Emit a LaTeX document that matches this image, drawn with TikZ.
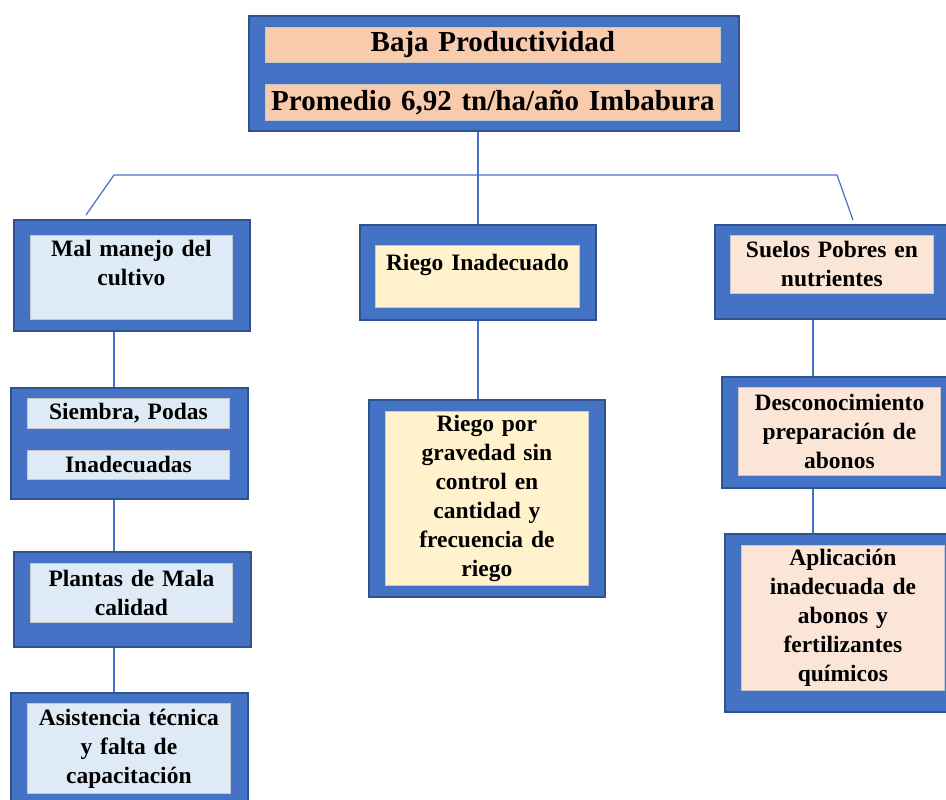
\documentclass[tikz,border=0pt]{standalone}
\usepackage{fontspec}
\setmainfont{Liberation Serif}
\usetikzlibrary{positioning, calc}
\definecolor{boxblue}{HTML}{4472C4}
\definecolor{frameblue}{HTML}{2F528F}
\definecolor{peach}{HTML}{F8CBAD}
\definecolor{paleblue}{HTML}{DEEBF7}
\definecolor{cream}{HTML}{FFF2CC}
\definecolor{rose}{HTML}{FBE5D6}
\tikzset{
  frame/.style={rectangle,draw=frameblue,line width=2pt,fill=boxblue,anchor=north west,inner sep=0pt},
  cell/.style={rectangle,draw=black!22,line width=0.8pt,anchor=north west,inner sep=0pt,align=center,font=\bfseries\fontsize{23.5}{29}\selectfont},
  cell_top/.style={cell,fill=peach,font=\bfseries\fontsize{29}{34}\selectfont},
  cell_l/.style={cell,fill=paleblue},
  cell_c/.style={cell,fill=cream},
  cell_r/.style={cell,fill=rose},
  link/.style={draw=boxblue,line width=1.2pt},
}

\begin{document}
\begin{tikzpicture}[x=1pt,y=-1pt]
	\clip (0,0) rectangle (946,800);
	% problema central
	\node[frame,minimum width=490pt,minimum height=115pt] (prob) at (248,15) {};
	\node[cell_top,text width=455pt,minimum height=35pt] (baja) at (265,27) {Baja Productividad};
	\node[cell_top,text width=455pt,minimum height=36pt] (prom) at (265,84) {Promedio 6,92 tn/ha/año Imbabura};
	% rama izquierda
	\node[frame,minimum width=236pt,minimum height=111pt] (mal) at (13,219) {};
	\node[cell_l,text width=202pt,minimum height=84pt] (malin) at (30,235) {Mal manejo del\\cultivo\\\mbox{}};
	\node[frame,minimum width=237pt,minimum height=111pt] (siem) at (10,387) {};
	\node[cell_l,text width=202pt,minimum height=30pt] (siemin) at (27,398) {Siembra, Podas};
	\node[cell_l,text width=202pt,minimum height=29pt] (inad) at (27,450) {Inadecuadas};
	\node[frame,minimum width=237pt,minimum height=95pt] (plan) at (13,551) {};
	\node[cell_l,text width=202pt,minimum height=59pt] (planin) at (30,563) {Plantas de Mala\\calidad};
	\node[frame,minimum width=237pt,minimum height=120pt] (asis) at (10,692) {};
	\node[cell_l,text width=203pt,minimum height=90pt] (asisin) at (27,703) {Asistencia técnica\\y falta de\\capacitación};
	% rama central
	\node[frame,minimum width=236pt,minimum height=95pt] (riego) at (359,224) {};
	\node[cell_c,text width=204pt,minimum height=62pt] (riegoin) at (375,245) {Riego Inadecuado\\\mbox{}};
	\node[frame,minimum width=236pt,minimum height=197pt] (grav) at (368,399) {};
	\node[cell_c,text width=203pt,minimum height=174pt] (gravin) at (385,411) {Riego por\\gravedad sin\\control en\\cantidad y\\frecuencia de\\riego};
	% rama derecha
	\node[frame,minimum width=240pt,minimum height=94pt] (suel) at (714,224) {};
	\node[cell_r,text width=203pt,minimum height=58pt] (suelin) at (730,235) {Suelos Pobres en\\nutrientes};
	\node[frame,minimum width=240pt,minimum height=111pt] (desc) at (721,376) {};
	\node[cell_r,text width=202pt,minimum height=88pt] (descin) at (738,387) {Desconocimiento\\preparación de\\abonos};
	\node[frame,minimum width=240pt,minimum height=178pt] (apli) at (724,533) {};
	\node[cell_r,text width=203pt,minimum height=145pt] (apliin) at (741,545) {Aplicación\\inadecuada de\\abonos y\\fertilizantes\\químicos};
	% conectores
	\coordinate (hm) at (478,175);
	\coordinate (hl) at (114,175);
	\coordinate (hr) at (837,175);
	\coordinate (dl) at (86,215);
	\coordinate (dr) at (853,220);
	\coordinate (lx) at (114,0);
	\coordinate (rx) at (813,0);
	\draw[link] (prob.south -| hm) -- (hm);
	\draw[link] (dl) -- (hl) -- (hr) -- (dr);
	\draw[link] (hm) -- (riego.north -| hm);
	\draw[link] (riego.south -| hm) -- (grav.north -| hm);
	\draw[link] (mal.south -| lx) -- (siem.north -| lx);
	\draw[link] (siem.south -| lx) -- (plan.north -| lx);
	\draw[link] (plan.south -| lx) -- (asis.north -| lx);
	\draw[link] (suel.south -| rx) -- (desc.north -| rx);
	\draw[link] (desc.south -| rx) -- (apli.north -| rx);
\end{tikzpicture}
\end{document}
